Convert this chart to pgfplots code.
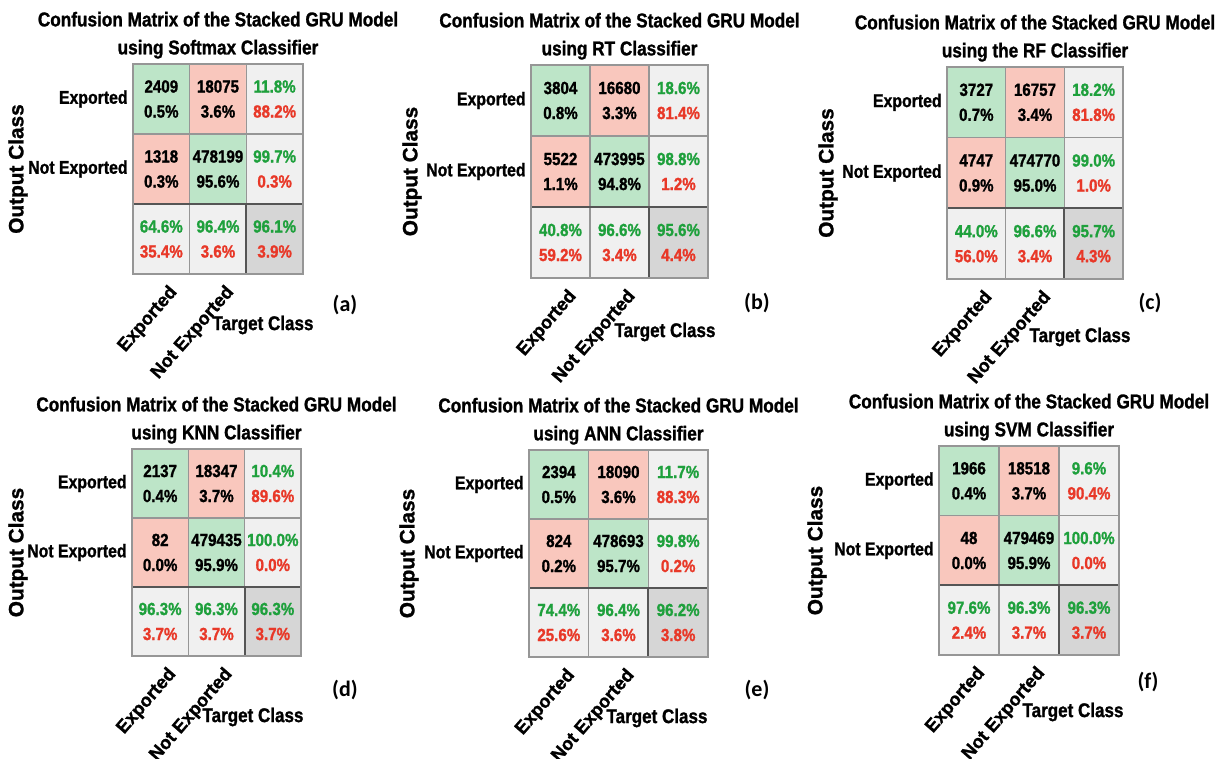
\documentclass[border=0pt]{standalone}
\usepackage{fontspec}
\setmainfont{Liberation Sans}[FakeStretch=0.86, BoldFeatures={FakeBold=1.2}]
\newfontfamily\plainsans{Liberation Sans}[BoldFeatures={FakeBold=1.2}]
\newfontfamily\panelfont{Carlito}
\usepackage{pgfplots}
\usepackage{pgfplotstable}
\pgfplotsset{compat=1.18}

\definecolor{cmgreen}{RGB}{189,229,200}
\definecolor{cmpink}{RGB}{249,199,189}
\definecolor{cmlight}{RGB}{240,240,240}
\definecolor{cmdark}{RGB}{214,214,214}
\definecolor{cmframe}{RGB}{150,150,150}
\definecolor{cmedge}{RGB}{85,85,85}
\definecolor{txtgreen}{RGB}{30,160,60}
\definecolor{txtred}{RGB}{232,56,40}

% cell layout: 0 = correct, 1 = wrong, 2 = per-class summary, 3 = overall
\pgfplotstableread{
x y c
0 0 2
1 0 2
2 0 3
0 1 1
1 1 0
2 1 2
0 2 0
1 2 1
2 2 2
}\cmlayout

\newcommand\ticklblfont{\bfseries\fontsize{9.2}{11}\selectfont}
\newcommand\xticklblfont{\plainsans\bfseries\fontsize{9.2}{11}\selectfont}

\tikzset{
  cmtext/.style={align=center, inner sep=0pt, font=\bfseries\fontsize{8.8}{12.5}\selectfont},
  cmtitle/.style={anchor=south, inner sep=0pt, yshift=2.5pt, align=center, font=\bfseries\fontsize{10}{14}\selectfont},
  cmylab/.style={rotate=90, inner sep=0pt, font=\plainsans\bfseries\fontsize{10.4}{12}\selectfont},
  cmxlab/.style={inner sep=0pt, font=\bfseries\fontsize{9.9}{12}\selectfont},
  cmletter/.style={inner sep=0pt, font=\panelfont\bfseries\fontsize{11}{13}\selectfont},
}

\pgfplotsset{
  cm/.style={
    anchor=north west, scale only axis, axis on top, clip=false,
    xmin=-0.5, xmax=2.5, ymin=-0.5, ymax=2.5,
    xtick={0,1}, xticklabels={Exported,Not Exported},
    ytick={1,2}, yticklabels={Not Exported,Exported},
    major tick length=0pt,
    axis line style={draw=cmframe, line width=0.6pt},
    yticklabel style={font=\ticklblfont, anchor=east, inner sep=0pt, xshift=-2.5pt},
    xticklabel style={font=\xticklblfont, xshift=6.5pt, yshift=-7.5pt, rotate=49, anchor=east, inner sep=0pt},
    colormap={cmcells}{rgb255=(189,229,200) rgb255=(249,199,189) rgb255=(240,240,240) rgb255=(214,214,214)},
  },
  cmthin/.style={draw=cmframe, line width=0.6pt},
  cmthick/.style={draw=cmedge, line width=1pt},
}

% coloured cells and grid lines
\newcommand\cmbase{%
  \addplot[matrix plot*, mesh/cols=3, point meta=explicit, colormap access=direct] table[meta=c] {\cmlayout};
  \addplot[cmthin] coordinates {(0.5,-0.5) (0.5,2.5)};
  \addplot[cmthin] coordinates {(-0.5,1.5) (2.5,1.5)};
  \addplot[cmthin] coordinates {(1.5,0.5) (1.5,2.5)};
  \addplot[cmthick] coordinates {(-0.5,0.5) (2.5,0.5)};
  \addplot[cmthick] coordinates {(1.5,-0.5) (1.5,0.5)};
}
% counts and shares of the four classification cells
\newcommand\cmcounts[8]{%
  \node[cmtext] at (axis cs:0,2) {#1\\#5\%};
  \node[cmtext] at (axis cs:1,2) {#2\\#6\%};
  \node[cmtext] at (axis cs:0,1) {#3\\#7\%};
  \node[cmtext] at (axis cs:1,1) {#4\\#8\%};
}
% summary cell: correct share over wrong share
\newcommand\cmsum[3]{%
  \node[cmtext] at (axis cs:#1) {\textcolor{txtgreen}{#2\%}\\\textcolor{txtred}{#3\%}};
}

\begin{document}
\begin{tikzpicture}
\path[use as bounding box] (0,0) rectangle (616pt,-379.5pt);

% (a) Softmax
\begin{axis}[cm, at={(66.5pt,-32pt)}, width=85pt, height=105pt]
\cmbase
\cmcounts{2409}{18075}{1318}{478199}{0.5}{3.6}{0.3}{95.6}
\cmsum{2,2}{11.8}{88.2}
\cmsum{2,1}{99.7}{0.3}
\cmsum{0,0}{64.6}{35.4}
\cmsum{1,0}{96.4}{3.6}
\cmsum{2,0}{96.1}{3.9}
\node[cmtitle] at (axis description cs:0.5,1) {Confusion Matrix of the Stacked GRU Model\\using Softmax Classifier};
\node[xshift=-57.5pt, cmylab] at (axis description cs:0,0.5) {Output Class};
\node[xshift=-20pt, yshift=-25.5pt, cmxlab] at (axis description cs:1,0) {Target Class};
\node[xshift=21pt, yshift=-15.5pt, cmletter] at (axis description cs:1,0) {(a)};
\end{axis}

% (b) RT
\begin{axis}[cm, at={(265.5pt,-32.5pt)}, width=88.5pt, height=106.5pt]
\cmbase
\cmcounts{3804}{16680}{5522}{473995}{0.8}{3.3}{1.1}{94.8}
\cmsum{2,2}{18.6}{81.4}
\cmsum{2,1}{98.8}{1.2}
\cmsum{0,0}{40.8}{59.2}
\cmsum{1,0}{96.6}{3.4}
\cmsum{2,0}{95.6}{4.4}
\node[cmtitle] at (axis description cs:0.5,1) {Confusion Matrix of the Stacked GRU Model\\using RT Classifier};
\node[xshift=-59.5pt, cmylab] at (axis description cs:0,0.5) {Output Class};
\node[xshift=-21.5pt, yshift=-27pt, cmxlab] at (axis description cs:1,0) {Target Class};
\node[xshift=24.5pt, yshift=-12.5pt, cmletter] at (axis description cs:1,0) {(b)};
\end{axis}

% (c) RF
\begin{axis}[cm, at={(473.5pt,-33.5pt)}, width=88pt, height=106pt]
\cmbase
\cmcounts{3727}{16757}{4747}{474770}{0.7}{3.4}{0.9}{95.0}
\cmsum{2,2}{18.2}{81.8}
\cmsum{2,1}{99.0}{1.0}
\cmsum{0,0}{44.0}{56.0}
\cmsum{1,0}{96.6}{3.4}
\cmsum{2,0}{95.7}{4.3}
\node[cmtitle] at (axis description cs:0.5,1) {Confusion Matrix of the Stacked GRU Model\\using the RF Classifier};
\node[xshift=-59.5pt, cmylab] at (axis description cs:0,0.5) {Output Class};
\node[xshift=-21.5pt, yshift=-29pt, cmxlab] at (axis description cs:1,0) {Target Class};
\node[xshift=13.5pt, yshift=-12pt, cmletter] at (axis description cs:1,0) {(c)};
\end{axis}

% (d) KNN
\begin{axis}[cm, at={(66pt,-224.5pt)}, width=84.5pt, height=103.5pt]
\cmbase
\cmcounts{2137}{18347}{82}{479435}{0.4}{3.7}{0.0}{95.9}
\cmsum{2,2}{10.4}{89.6}
\cmsum{2,1}{100.0}{0.0}
\cmsum{0,0}{96.3}{3.7}
\cmsum{1,0}{96.3}{3.7}
\cmsum{2,0}{96.3}{3.7}
\node[cmtitle] at (axis description cs:0.5,1) {Confusion Matrix of the Stacked GRU Model\\using KNN Classifier};
\node[xshift=-57pt, cmylab] at (axis description cs:0,0.5) {Output Class};
\node[xshift=-24pt, yshift=-30.5pt, cmxlab] at (axis description cs:1,0) {Target Class};
\node[xshift=22pt, yshift=-17pt, cmletter] at (axis description cs:1,0) {(d)};
\end{axis}

% (e) ANN
\begin{axis}[cm, at={(264.5pt,-225pt)}, width=89.5pt, height=103.5pt]
\cmbase
\cmcounts{2394}{18090}{824}{478693}{0.5}{3.6}{0.2}{95.7}
\cmsum{2,2}{11.7}{88.3}
\cmsum{2,1}{99.8}{0.2}
\cmsum{0,0}{74.4}{25.6}
\cmsum{1,0}{96.4}{3.6}
\cmsum{2,0}{96.2}{3.8}
\node[cmtitle] at (axis description cs:0.5,1) {Confusion Matrix of the Stacked GRU Model\\using ANN Classifier};
\node[xshift=-60pt, cmylab] at (axis description cs:0,0.5) {Output Class};
\node[xshift=-25.5pt, yshift=-30.5pt, cmxlab] at (axis description cs:1,0) {Target Class};
\node[xshift=24.5pt, yshift=-16.5pt, cmletter] at (axis description cs:1,0) {(e)};
\end{axis}

% (f) SVM
\begin{axis}[cm, at={(469.5pt,-223pt)}, width=90pt, height=104.5pt]
\cmbase
\cmcounts{1966}{18518}{48}{479469}{0.4}{3.7}{0.0}{95.9}
\cmsum{2,2}{9.6}{90.4}
\cmsum{2,1}{100.0}{0.0}
\cmsum{0,0}{97.6}{2.4}
\cmsum{1,0}{96.3}{3.7}
\cmsum{2,0}{96.3}{3.7}
\node[cmtitle] at (axis description cs:0.5,1) {Confusion Matrix of the Stacked GRU Model\\using SVM Classifier};
\node[xshift=-61pt, cmylab] at (axis description cs:0,0.5) {Output Class};
\node[xshift=-23pt, yshift=-28.5pt, cmxlab] at (axis description cs:1,0) {Target Class};
\node[xshift=14.5pt, yshift=-13.5pt, cmletter] at (axis description cs:1,0) {(f)};
\end{axis}
\end{tikzpicture}
\end{document}
